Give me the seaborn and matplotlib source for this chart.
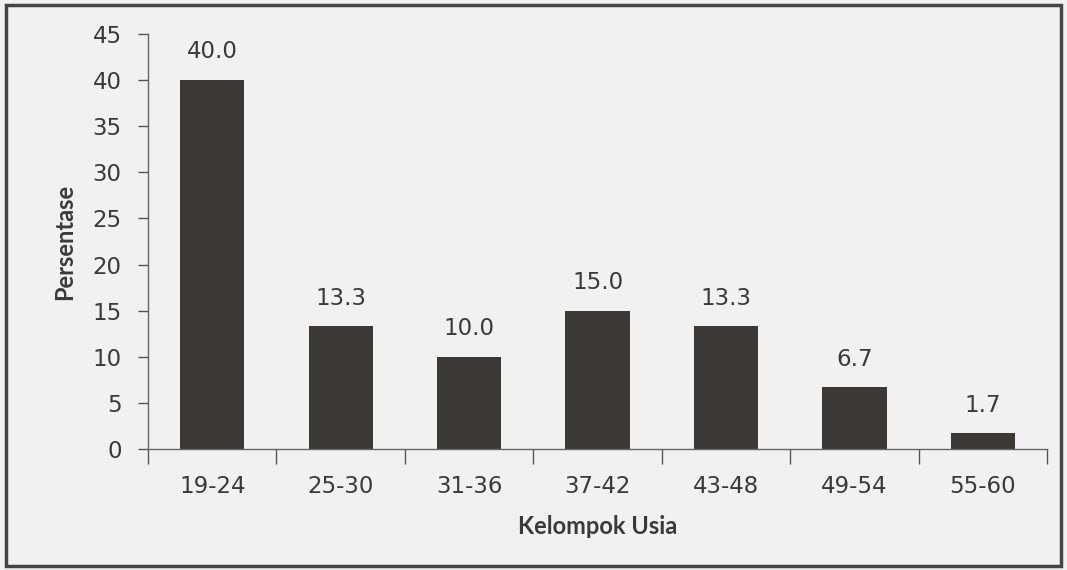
import numpy as np
import pandas as pd
import matplotlib
matplotlib.use('Agg')
import matplotlib.pyplot as plt
import seaborn as sns
from matplotlib.patches import Rectangle

# ── Data ──────────────────────────────────────────────
age_groups = ['19-24', '25-30', '31-36', '37-42', '43-48', '49-54', '55-60']
percent    = [40.0, 13.3, 10.0, 15.0, 13.3, 6.7, 1.7]
y_ticks    = [0, 5, 10, 15, 20, 25, 30, 35, 40, 45]
# ───────────────────────────────────────────────────────

sns.set_style('white')
plt.rcParams['font.family'] = ['DejaVu Sans']

BG = '#f1f1f1'
BAR = '#3b3937'
TXT = '#3a3a3a'
FS = 16.5

df = pd.DataFrame({'Kelompok Usia': age_groups, 'Persentase': percent})

fig = plt.figure(figsize=(10.67, 5.70), dpi=100, facecolor=BG)
ax = fig.add_axes([0.1387, 0.2123, 0.8426, 0.7281], facecolor=BG)

sns.barplot(data=df, x='Kelompok Usia', y='Persentase', color=BAR,
            width=0.5, saturation=1, linewidth=0, ax=ax)

for c in ax.containers:
    ax.bar_label(c, labels=[f'{v:.1f}' for v in percent], padding=12,
                 fontsize=FS, color=TXT)

ax.set_ylim(0, 45)
ax.set_xlim(-0.5, len(age_groups) - 0.5)
ax.set_yticks(y_ticks)
ax.tick_params(axis='y', length=7, width=1, color='#555555', labelsize=FS,
               labelcolor=TXT, pad=12, left=True)

# x ticks sit on category boundaries, labels stay centred
ax.set_xticks(np.arange(len(age_groups)))
ax.set_xticklabels(age_groups, fontsize=FS, color=TXT)
ax.tick_params(axis='x', length=0, pad=19)
ax.set_xticks(np.arange(-0.5, len(age_groups)), minor=True)
ax.tick_params(axis='x', which='minor', length=11, width=1, color='#555555',
               bottom=True)

for side in ['top', 'right']:
    ax.spines[side].set_visible(False)
for side in ['left', 'bottom']:
    ax.spines[side].set_color('#666666')
    ax.spines[side].set_linewidth(1)

ax.set_xlabel('Kelompok Usia', fontsize=17, fontweight='bold', color=TXT,
              family=['Lato', 'DejaVu Sans'], labelpad=12)
ax.set_ylabel('Persentase', fontsize=17, fontweight='bold', color=TXT,
              family=['Lato', 'DejaVu Sans'], labelpad=12)

# scanned frame around the whole chart
fig.patches.append(Rectangle((6 / 1067, 4 / 570), 1055 / 1067, 561 / 570,
                             transform=fig.transFigure, fill=False,
                             edgecolor='#444444', linewidth=2.5))

plt.savefig('out.png', dpi=100, facecolor=BG)
plt.close()
